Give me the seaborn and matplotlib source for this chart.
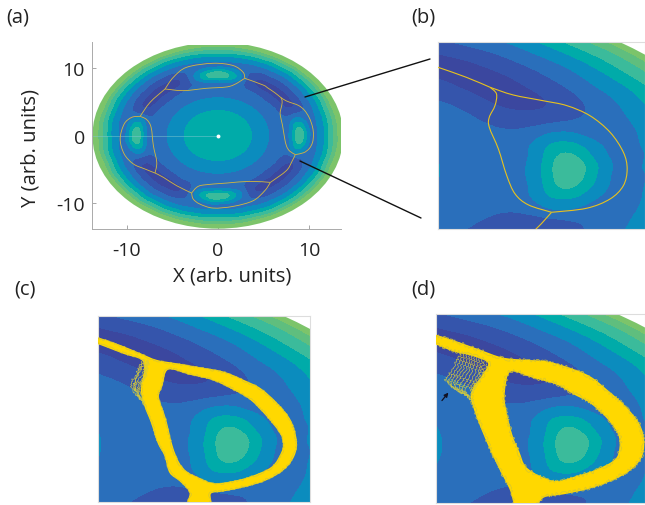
import numpy as np
import matplotlib
matplotlib.use("Agg")
import matplotlib.pyplot as plt
import matplotlib.tri as mtri
from matplotlib.lines import Line2D
from matplotlib.patches import Circle, PathPatch
from matplotlib.path import Path
import seaborn as sns

# potential: band index along each ray, one octant
radii = [0, 2, 3.5, 5.5, 6.5, 7.5, 8, 8.5, 9, 9.5, 10, 10.5, 11, 11.5, 12, 12.5, 13, 13.5, 14.5]
angles = [0, 7.5, 15, 22.5, 30, 37.5, 45]
inner = [4.7, 4.5, 4.05, 3.03]
ray_00 = inner + [2.4, 2.6, 3.4, 4.9, 5.7, 4.6, 3.2, 2.5, 3.1, 3.6, 4.6, 5.6, 6.6, 7.6, 9.5]
ray_07 = inner + [2.4, 2.55, 3.1, 4.4, 5.0, 4.1, 3.0, 2.4, 3.0, 3.6, 4.5, 5.5, 6.5, 7.6, 9.5]
ray_15 = inner + [2.4, 2.4, 2.6, 3.1, 3.4, 3.0, 2.5, 2.3, 2.9, 3.5, 4.4, 5.4, 6.5, 7.6, 9.5]
ray_22 = inner + [2.4, 2.05, 1.8, 1.65, 1.6, 1.65, 1.9, 2.3, 2.8, 3.4, 4.3, 5.3, 6.4, 7.7, 9.5]
ray_30 = inner + [2.4, 1.9, 1.35, 0.95, 0.8, 0.92, 1.4, 2.0, 2.7, 3.35, 4.2, 5.2, 6.3, 7.8, 9.5]
ray_37 = inner + [2.4, 1.8, 1.2, 0.85, 0.65, 0.85, 1.3, 1.95, 2.6, 3.3, 4.2, 5.2, 6.3, 7.8, 9.5]
ray_45 = inner + [2.4, 1.75, 1.2, 0.85, 0.6, 0.8, 1.25, 1.9, 2.6, 3.3, 4.2, 5.2, 6.3, 7.8, 9.5]
band_levels = [-1, 1, 2, 3, 4, 5, 6, 7, 11]
band_colors = ["#3B479F", "#3555AC", "#2A6FBB", "#0B8CBE", "#00ABA9", "#3BBB9B", "#5FBE7E", "#7CC46A"]

# separatrix, one list per branch (x, y in arb. units)
right_outer_x = [6.87, 7.48, 8.27, 8.89, 9.5, 10.03, 10.38, 10.48, 10.38, 10.03, 9.41, 8.49]
right_outer_y = [5.64, 5.12, 4.73, 4.40, 3.72, 2.60, 1.25, 0.12, -1.01, -1.91, -2.54, -2.81]
right_inner_x = [6.87, 7.04, 7.0, 6.85, 6.85, 7.09, 7.31, 7.53, 7.88, 8.49]
right_inner_y = [5.64, 5.19, 4.40, 3.61, 2.94, 1.47, -0.33, -1.57, -2.31, -2.81]
link_br_x = [8.49, 8.10, 7.50, 5.76]
link_br_y = [-2.81, -3.89, -5.2, -6.92]
bottom_upper_x = [5.76, 3.50, 0.95, -1.60, -2.33, -2.88]
bottom_upper_y = [-6.92, -6.77, -7.02, -7.31, -7.66, -8.49]
bottom_lower_x = [5.76, 5.14, 3.86, 1.68, -0.51, -1.97, -2.70, -2.88]
bottom_lower_y = [-6.92, -8.15, -9.63, -10.46, -10.71, -10.12, -9.38, -8.49]
link_bl_x = [-2.88, -4.52, -5.97, -6.89]
link_bl_y = [-8.49, -7.41, -6.18, -5.54]
left_inner_x = [-6.89, -6.70, -7.07, -7.32, -7.80, -8.52]
left_inner_y = [-5.54, -3.96, -1.50, 1.21, 2.34, 2.83]
left_outer_x = [-6.89, -7.98, -9.25, -10.27, -10.71, -10.27, -9.44, -8.52]
left_outer_y = [-5.54, -4.95, -4.21, -2.73, -0.52, 1.70, 2.68, 2.83]
link_tl_x = [-8.52, -7.43, -5.79]
link_tl_y = [2.83, 4.90, 6.87]
top_lower_x = [-5.79, -3.79, -1.24, 1.31, 2.95]
top_lower_y = [6.87, 6.62, 6.97, 7.26, 8.44]
top_upper_x = [-5.79, -4.88, -3.42, -0.51, 1.68, 2.77, 2.95]
top_upper_y = [6.87, 8.59, 10.07, 10.66, 10.32, 9.33, 8.44]
link_tr_x = [2.95, 4.95, 5.5, 6.25, 6.87]
link_tr_y = [8.44, 7.46, 6.99, 6.31, 5.64]
branches = [
    (right_outer_x, right_outer_y), (right_inner_x, right_inner_y), (link_br_x, link_br_y),
    (bottom_upper_x, bottom_upper_y), (bottom_lower_x, bottom_lower_y), (link_bl_x, link_bl_y),
    (left_inner_x, left_inner_y), (left_outer_x, left_outer_y), (link_tl_x, link_tl_y),
    (top_lower_x, top_lower_y), (top_upper_x, top_upper_y), (link_tr_x, link_tr_y),
]

# trajectory bundle, panel (c)
c_outer_x = [5.30, 5.48, 6.04, 6.56, 6.99, 7.51, 8.12, 8.72, 9.24, 9.68, 10.11, 10.45, 10.60, 10.54, 10.28, 9.85, 9.33, 8.72,
             8.38, 8.36, 7.81, 7.86, 7.60, 7.34, 7.21, 7.03, 6.86, 6.69, 6.60, 6.69, 6.60, 6.13, 5.48, 5.30]
c_outer_y = [7.30, 7.19, 6.69, 6.13, 5.68, 5.45, 5.18, 4.89, 4.33, 3.76, 2.75, 1.62, 0.27, -0.74, -1.64, -2.32, -2.77, -3.10,
             -3.28, -4.2, -4.2, -3.22, -2.43, -1.87, -0.74, 0.16, 1.51, 2.64, 3.76, 5.12, 5.79, 6.20, 6.85, 6.95]
c_inner_x = [7.28, 7.86, 8.46, 8.98, 9.42, 9.85, 10.19, 10.28, 10.24, 9.98, 9.42, 8.90, 8.46, 8.12, 7.77, 7.55, 7.38, 7.21, 7.03, 7.12]
c_inner_y = [5.12, 4.78, 4.40, 3.76, 3.09, 1.96, 0.84, 0.16, -0.51, -1.53, -2.20, -2.54, -2.65, -2.32, -1.87, -1.19, -0.06, 1.74, 3.20, 3.99]
c_fringe = [
    ([6.69, 6.56, 6.34, 6.34, 6.56], [5.79, 5.12, 4.33, 3.76, 3.09]),
    ([6.73, 6.65, 6.47, 6.43, 6.65], [5.68, 4.89, 4.33, 3.65, 2.86]),
    ([6.78, 6.73, 6.56, 6.54, 6.69], [5.68, 4.78, 4.10, 3.43, 2.64]),
    ([6.62, 6.50, 6.40, 6.47, 6.62], [5.70, 5.00, 4.20, 3.50, 2.90]),
    ([6.76, 6.68, 6.52, 6.50, 6.66], [5.75, 4.70, 4.20, 3.50, 2.75]),
    ([6.66, 6.62, 6.44, 6.38, 6.58], [5.60, 5.20, 4.50, 3.90, 3.20]),
]

# trajectory bundle, panel (d)
d_outer_x = [5.25, 5.39, 5.93, 6.54, 7.11, 7.68, 8.29, 8.90, 9.42, 9.86, 10.30, 10.69, 10.82, 10.73, 10.38, 9.86, 9.34, 8.73,
             8.20, 7.94, 7.52, 7.33, 7.02, 6.72, 6.46, 6.33, 6.37, 6.68, 6.76, 6.37, 5.85, 5.39, 5.25]
d_outer_y = [7.55, 7.42, 6.97, 6.40, 5.89, 5.73, 5.62, 5.17, 4.60, 3.70, 2.69, 1.45, 0.21, -0.92, -1.82, -2.49, -2.94, -3.28,
             -3.51, -4.29, -4.29, -2.94, -1.37, 0.32, 2.01, 3.14, 3.81, 4.94, 5.62, 6.07, 6.40, 6.87, 6.95]
d_inner_x = [7.33, 7.94, 8.55, 8.99, 9.42, 9.86, 10.17, 10.21, 10.08, 9.60, 9.07, 8.55, 8.11, 7.72, 7.55, 7.37, 7.20, 7.17]
d_inner_y = [5.01, 4.60, 4.15, 3.50, 2.91, 1.90, 0.78, -0.24, -1.03, -1.70, -2.15, -2.49, -2.15, -1.48, -0.47, 0.66, 2.46, 3.59]
d_fringe = [
    ([6.06, 5.89, 5.71, 5.63, 6.02], [6.29, 5.50, 4.72, 4.38, 3.59]),
    ([6.20, 6.06, 5.85, 5.76, 6.20], [6.18, 5.39, 4.60, 4.04, 3.32]),
    ([6.33, 6.24, 6.06, 5.93, 6.28], [6.07, 5.39, 4.72, 4.15, 3.14]),
    ([6.46, 6.37, 6.24, 6.11, 6.37], [5.95, 5.28, 4.60, 3.93, 2.80]),
    ([6.59, 6.54, 6.41, 6.28], [5.84, 5.17, 4.49, 3.81]),
    ([6.72, 6.63, 6.46, 6.33], [5.50, 4.94, 4.15, 3.48]),
    ([6.13, 5.98, 5.78, 5.70, 6.10], [6.22, 5.45, 4.66, 4.20, 3.45]),
    ([6.27, 6.15, 5.95, 5.85, 6.24], [6.12, 5.39, 4.66, 4.10, 3.23]),
    ([6.40, 6.30, 6.15, 6.02, 6.32], [6.00, 5.33, 4.66, 4.04, 2.97]),
    ([6.52, 6.46, 6.33, 6.20], [5.90, 5.22, 4.55, 3.87]),
    ([6.65, 6.58, 6.43, 6.30], [5.67, 5.05, 4.32, 3.65]),
]

W, H = 645, 506
sns.set_style("white")
plt.rcParams["font.family"] = ["Open Sans", "DejaVu Sans"]
plt.rcParams["axes.unicode_minus"] = False
fig = plt.figure(figsize=(W / 100, H / 100), dpi=100)


def caja(x0, y0, x1, y1):
    # axes from a box in picture pixels
    return fig.add_axes([x0 / W, 1 - y1 / H, (x1 - x0) / W, (y1 - y0) / H])


def curva(x, y, cerrada=False):
    # smooth path through the read points (Catmull-Rom as Bezier segments)
    p = np.column_stack([x, y])
    n = len(p)
    verts, codes = [p[0]], [Path.MOVETO]
    for i in range(n if cerrada else n - 1):
        p0 = p[(i - 1) % n] if (cerrada or i > 0) else p[i]
        p1, p2 = p[i], p[(i + 1) % n]
        p3 = p[(i + 2) % n] if (cerrada or i + 2 < n) else p2
        verts += [p1 + (p2 - p0) / 6, p2 - (p3 - p1) / 6, p2]
        codes += [Path.CURVE4] * 3
    return Path(verts, codes)


# unfold the octant into the whole disc
rays = [ray_00, ray_07, ray_15, ray_22, ray_30, ray_37, ray_45]
xs, ys, zs = [0.0], [0.0], [inner[0]]
for oct_i in range(8):
    sentido = -1 if oct_i % 2 else 1
    for j in range(len(angles) - 1):
        k = j if sentido == 1 else len(angles) - 1 - j
        th = np.deg2rad(oct_i * 45 + (angles[k] if sentido == 1 else 45 - angles[k]))
        for r, v in zip(radii[1:], rays[k][1:]):
            xs.append(r * np.cos(th))
            ys.append(r * np.sin(th))
            zs.append(v)
tri = mtri.Triangulation(xs, ys)
interp = mtri.CubicTriInterpolator(tri, np.array(zs), kind="min_E")
fino, campo = mtri.UniformTriRefiner(tri).refine_field(np.array(zs), interp, subdiv=3)


def dibujar_campo(ax, radio=13.47):
    cs = ax.tricontourf(fino, campo, levels=band_levels, colors=band_colors)
    cs.set_edgecolor("face")
    cs.set_linewidth(0.3)
    cs.set_clip_path(Circle((0, 0), radio, transform=ax.transData))


def borde_claro(ax):
    ax.set_xticks([])
    ax.set_yticks([])
    for s in ax.spines.values():
        s.set_color("#DDDDDD")
        s.set_linewidth(0.8)


def dibujar_separatriz(ax, color, lw):
    for bx, by in branches:
        ax.add_patch(PathPatch(curva(bx, by), fc="none", ec=color, lw=lw, zorder=3))


def dibujar_haz(ax, ox, oy, ix, iy, fringe, rugosidad):
    # yellow band with the hole of the loop
    borde = curva(ox, oy, cerrada=True)
    hueco = curva(ix[::-1], iy[::-1], cerrada=True)
    ax.add_patch(PathPatch(Path.make_compound_path(borde, hueco), fc="#FFD800", ec="#FFD800", lw=1.2, zorder=3))
    for trazo in (borde, hueco):
        pp = PathPatch(trazo, fc="none", ec="#D8C62E", lw=0.5, zorder=3)
        pp.set_sketch_params(scale=rugosidad, length=4, randomness=20)
        ax.add_patch(pp)
    for fx, fy in fringe:
        sns.lineplot(x=fx, y=fy, sort=False, estimator=None, color="#D6CC3C", lw=0.45, ax=ax, zorder=3)
        ax.lines[-1].set_sketch_params(scale=1.2, length=4, randomness=20)


# (a)
ax_a = caja(92, 43, 341, 230)
dibujar_campo(ax_a, radio=13.75)
ax_a.axhspan(13.4, 13.8, color="white", lw=0, zorder=2)
dibujar_separatriz(ax_a, "#D6B83C", 0.6)
sns.lineplot(x=[-13.7, 0], y=[0, 0], color="#7FC8D0", lw=0.5, alpha=0.7, ax=ax_a)
ax_a.plot([0], [0], "o", color="white", ms=2.8, mew=0)
ax_a.set_xlim(-13.8, 13.5)
ax_a.set_ylim(-13.8, 13.8)
ax_a.set_xticks([-10, 0, 10])
ax_a.set_yticks([-10, 0, 10])
ax_a.tick_params(direction="in", length=3, width=0.6, color="#999999", labelsize=14,
                 bottom=True, left=True, labelcolor="#222222")
ax_a.tick_params(axis="x", pad=9)
ax_a.tick_params(axis="y", pad=5)
ax_a.set_xlabel("X (arb. units)", fontsize=14.6, color="#222222")
ax_a.set_ylabel("Y (arb. units)", fontsize=14.6, color="#222222")
ax_a.xaxis.set_label_coords(0.562, -0.195)
ax_a.yaxis.set_label_coords(-0.205, 0.44)
sns.despine(ax=ax_a)
for s in ("left", "bottom"):
    ax_a.spines[s].set_color("#AAAAAA")
    ax_a.spines[s].set_linewidth(0.7)

# (b)
ax_b = caja(438, 43, 645, 230)
dibujar_campo(ax_b)
dibujar_separatriz(ax_b, "#E8C21E", 0.8)
ax_b.set_xlim(5.5, 10.95)
ax_b.set_ylim(-3.94, 8.7)
borde_claro(ax_b)

# (c)
ax_c = caja(98, 317, 309.5, 503)
dibujar_campo(ax_c)
dibujar_haz(ax_c, c_outer_x, c_outer_y, c_inner_x, c_inner_y, c_fringe, 1.0)
ax_c.set_xlim(5.47, 10.95)
ax_c.set_ylim(-3.87, 8.7)
borde_claro(ax_c)

# (d)
ax_d = caja(436, 315, 645, 503.5)
dibujar_campo(ax_d)
dibujar_haz(ax_d, d_outer_x, d_outer_y, d_inner_x, d_inner_y, d_fringe, 1.8)
ax_d.annotate("", xy=(5.76, 3.70), xytext=(5.50, 2.87), zorder=5,
              arrowprops=dict(arrowstyle="-|>", color="#111122", lw=0.9, mutation_scale=6))
ax_d.set_xlim(5.39, 10.86)
ax_d.set_ylim(-3.89, 8.88)
borde_claro(ax_d)

# zoom guide lines and panel letters
for (x0, y0, x1, y1) in [(305, 98, 430, 60), (300, 162, 421, 219)]:
    fig.add_artist(Line2D([x0 / W, x1 / W], [1 - y0 / H, 1 - y1 / H], color="#111111", lw=1.0))
for txt, px_x, px_y in [("(a)", 6, 17), ("(b)", 411, 17), ("(c)", 14, 290), ("(d)", 411, 290)]:
    fig.text(px_x / W, 1 - px_y / H, txt, fontsize=14.5, color="#222222", va="center")

fig.savefig("out.png", dpi=100)
